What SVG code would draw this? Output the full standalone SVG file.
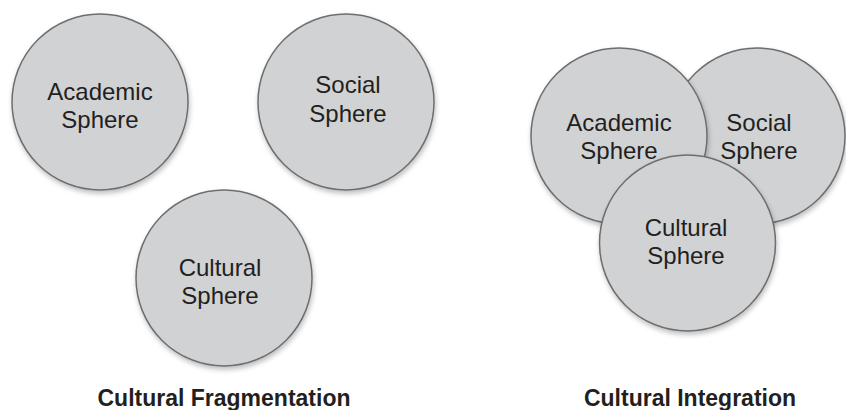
<svg xmlns="http://www.w3.org/2000/svg" width="846" height="410" viewBox="0 0 846 410">
  <defs>
    <filter id="soft-shadow" x="-20%" y="-20%" width="140%" height="140%">
      <feDropShadow dx="1" dy="3" stdDeviation="2.5" flood-color="#000" flood-opacity="0.25"/>
    </filter>
  </defs>
  <style>
    .sphere { fill: #d1d2d4; stroke: #6d6e70; stroke-width: 1.5; filter: url(#soft-shadow); }
    .label { font-family: "Liberation Sans", Arial, sans-serif; font-size: 24px; fill: #231f20; text-anchor: middle; }
    .caption { font-family: "Liberation Sans", Arial, sans-serif; font-size: 23px; font-weight: bold; fill: #231f20; text-anchor: middle; }
  </style>
  <rect width="846" height="410" fill="#ffffff"/>

  <!-- Separate spheres -->
  <g id="frag-academic">
    <circle class="sphere" cx="100" cy="102" r="88"/>
    <text class="label" x="100" y="100">Academic</text>
    <text class="label" x="100" y="128">Sphere</text>
  </g>
  <g id="frag-social">
    <circle class="sphere" cx="346" cy="102" r="88"/>
    <text class="label" x="348" y="93">Social</text>
    <text class="label" x="348" y="122">Sphere</text>
  </g>
  <g id="frag-cultural">
    <circle class="sphere" cx="224" cy="278" r="88"/>
    <text class="label" x="220" y="276">Cultural</text>
    <text class="label" x="220" y="304">Sphere</text>
  </g>
  <text id="caption-fragmentation" class="caption" x="224" y="406">Cultural Fragmentation</text>

  <!-- Overlapping spheres -->
  <g id="int-social">
    <circle class="sphere" cx="757" cy="136" r="88"/>
    <text class="label" x="759" y="131">Social</text>
    <text class="label" x="759" y="159">Sphere</text>
  </g>
  <g id="int-academic">
    <circle class="sphere" cx="619" cy="136" r="88"/>
    <text class="label" x="619" y="131">Academic</text>
    <text class="label" x="619" y="159">Sphere</text>
  </g>
  <g id="int-cultural">
    <circle class="sphere" cx="687.5" cy="243" r="88"/>
    <text class="label" x="686" y="236">Cultural</text>
    <text class="label" x="686" y="264">Sphere</text>
  </g>
  <text id="caption-integration" class="caption" x="690" y="406">Cultural Integration</text>

  <!-- no connectors in this figure -->
  <g id="connectors"/>
</svg>
